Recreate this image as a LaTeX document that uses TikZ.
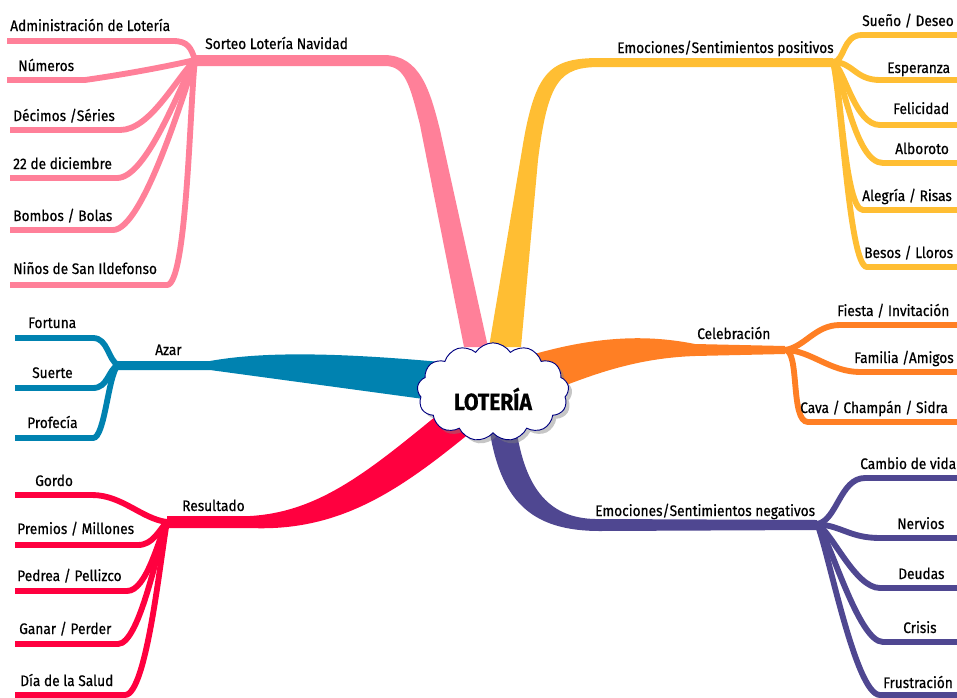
\documentclass[tikz,border=0pt]{standalone}
\usepackage{fontspec}
\setmainfont{Fira Sans}[FakeStretch=0.9, FakeBold=0.6]
\usetikzlibrary{calc, shapes.symbols, shadows}
\definecolor{C1}{HTML}{FF8099}
\definecolor{C2}{HTML}{FFBE33}
\definecolor{C3}{HTML}{FF7F24}
\definecolor{C4}{HTML}{4F4791}
\definecolor{C5}{HTML}{0082B0}
\definecolor{C6}{HTML}{FF003F}
\definecolor{C7}{HTML}{000080}

\begin{document}
\begin{tikzpicture}[
	x=0.03cm, y=-0.03cm,
	txt/.style = {anchor=base west, inner sep=0pt, font=\fontsize{13}{15}\selectfont},
	leaf/.style = {line width=5pt},
	center/.style = {shape=cloud, cloud puffs=13, cloud puff arc=115, aspect=1.6,
		draw=C7, thick, fill=white, minimum width=4.55cm, minimum height=2.95cm,
		drop shadow={shadow xshift=3pt, shadow yshift=-3pt, opacity=0.45},
		font=\fontsize{20}{22}\selectfont\bfseries}
]
  \clip (0,0) rectangle (957,697);

  % hubs
  \coordinate (lot) at (493,392);
  \coordinate (sorteo) at (195,60);
  \coordinate (emopos) at (833,62);
  \coordinate (celeb) at (785,350);
  \coordinate (emoneg) at (817,524);
  \coordinate (azar) at (118,365);
  \coordinate (result) at (167,522);

  % trunks
  \fill[C1] ($(sorteo)+(0,-5)$) -- (385,55) .. controls (420,56) and (430,90) .. (440,130)
    -- ($(lot)+(-5,-45)$) -- ($(lot)+(-29,-45)$) -- (420,125)
    .. controls (410,85) and (405,66) .. (385,66) -- ($(sorteo)+(0,6)$) -- cycle;
  \fill[C2] ($(emopos)+(0,-4)$) -- (600,58) .. controls (550,58) and (535,70) .. (522,150)
    -- ($(lot)+(-4,-45)$) -- ($(lot)+(28,-45)$) -- (538,160)
    .. controls (548,80) and (560,67) .. (600,67) -- ($(emopos)+(0,5)$) -- cycle;
  \fill[C3] ($(celeb)+(0,-4)$) -- (695,344) .. controls (650,335) and (600,335) .. ($(lot)+(38,-37)$)
    -- ($(lot)+(68,-5)$) .. controls (600,372) and (640,358) .. (695,356) -- ($(celeb)+(0,4)$) -- cycle;
  \fill[C4] ($(lot)+(-4,35)$) .. controls (500,500) and (530,531) .. (600,531) -- ($(emoneg)+(0,6)$)
    -- ($(emoneg)+(0,-4)$) -- (600,519) .. controls (550,520) and (525,490) .. ($(lot)+(23,35)$) -- cycle;
  \fill[C5] ($(azar)+(0,-4)$) -- (210,361) .. controls (260,352) and (330,352) .. ($(lot)+(-52,-30)$)
    -- ($(lot)+(-62,8)$) -- (210,370) -- ($(azar)+(0,5)$) -- cycle;
  \fill[C6] ($(result)+(0,-6)$) -- (250,516) .. controls (320,512) and (370,470) .. ($(lot)+(-52,20)$)
    -- ($(lot)+(-22,40)$) .. controls (400,490) and (340,532) .. (250,528) -- ($(result)+(0,6)$) -- cycle;

  % Sorteo Loteria Navidad
  \coordinate (adm-e) at (7,41);
  \coordinate (num-e) at (7,80);
  \coordinate (dec-e) at (10,130);
  \coordinate (dic-e) at (10,178);
  \coordinate (bom-e) at (10,230);
  \coordinate (nin-e) at (10,285);
  \draw[leaf, C1] (adm-e) -- ++(166,0) .. controls +(15,0) and +(-4,-12) .. (sorteo);
  \draw[leaf, C1] (num-e) -- ++(78,0) .. controls +(35,-5) and +(-35,8) .. (sorteo);
  \draw[leaf, C1] (dec-e) -- ++(110,0) .. controls +(30,0) and +(-20,20) .. (sorteo);
  \draw[leaf, C1] (dic-e) -- ++(107,0) .. controls +(30,0) and +(-15,25) .. (sorteo);
  \draw[leaf, C1] (bom-e) -- ++(103,0) .. controls +(30,0) and +(-10,30) .. (sorteo);
  \draw[leaf, C1] (nin-e) -- ++(157,0) .. controls +(20,0) and +(-5,40) .. (sorteo);
  \node[txt] (sorteo-t) at (205,49) {Sorteo Lotería Navidad};
  \node[txt] (adm) at (10,31) {Administración de Lotería};
  \node[txt] (num) at (18,71) {Números};
  \node[txt] (dec) at (13,121) {Décimos /Séries};
  \node[txt] (dic) at (13,169) {22 de diciembre};
  \node[txt] (bom) at (13,221) {Bombos / Bolas};
  \node[txt] (nin) at (13,274) {Niños de San Ildefonso};

  % Emociones positivas
  \coordinate (sue-e) at (960,35);
  \coordinate (esp-e) at (960,80);
  \coordinate (fel-e) at (960,125);
  \coordinate (alb-e) at (960,163);
  \coordinate (ale-e) at (960,210);
  \coordinate (bes-e) at (960,267);
  \draw[leaf, C2] (sue-e) -- ++(-98,0) .. controls +(-20,0) and +(12,0) .. (emopos);
  \draw[leaf, C2] (esp-e) -- ++(-80,0) .. controls +(-25,0) and +(20,0) .. (emopos);
  \draw[leaf, C2] (fel-e) -- ++(-80,0) .. controls +(-25,0) and +(12,8) .. (emopos);
  \draw[leaf, C2] (alb-e) -- ++(-77,0) .. controls +(-28,0) and +(10,15) .. (emopos);
  \draw[leaf, C2] (ale-e) -- ++(-97,0) .. controls +(-18,0) and +(8,25) .. (emopos);
  \draw[leaf, C2] (bes-e) -- ++(-93,0) .. controls +(-18,0) and +(8,30) .. (emopos);
  \node[txt] (emopos-t) at (617,53) {Emociones/Sentimientos positivos};
  \node[txt] (sue) at (862,26) {Sueño / Deseo};
  \node[txt] (esp) at (887,73) {Esperanza};
  \node[txt] (fel) at (893,114) {Felicidad};
  \node[txt] (alb) at (895,154) {Alboroto};
  \node[txt] (ale) at (862,201) {Alegría / Risas};
  \node[txt] (bes) at (864,258) {Besos / Lloros};

  % Celebracion
  \coordinate (fie-e) at (960,325);
  \coordinate (fam-e) at (960,372);
  \coordinate (cav-e) at (960,422);
  \draw[leaf, C3] (fie-e) -- ++(-120,0) .. controls +(-25,0) and +(20,-3) .. (celeb);
  \draw[leaf, C3] (fam-e) -- ++(-100,0) .. controls +(-30,0) and +(25,0) .. (celeb);
  \draw[leaf, C3] (cav-e) -- ++(-152,0) .. controls +(-18,0) and +(15,0) .. (celeb);
  \node[txt] (celeb-t) at (697,339) {Celebración};
  \node[txt] (fie) at (837,316) {Fiesta / Invitación};
  \node[txt] (fam) at (854,363) {Familia /Amigos};
  \node[txt] (cav) at (800,413) {Cava / Champán / Sidra};

  % Emociones negativas
  \coordinate (cam-e) at (960,478);
  \coordinate (ner-e) at (960,538);
  \coordinate (deu-e) at (960,588);
  \coordinate (cri-e) at (960,642);
  \coordinate (fru-e) at (960,695);
  \draw[leaf, C4] (cam-e) -- ++(-95,0) .. controls +(-25,0) and +(20,-3) .. (emoneg);
  \draw[leaf, C4] (ner-e) -- ++(-80,0) .. controls +(-30,0) and +(25,2) .. (emoneg);
  \draw[leaf, C4] (deu-e) -- ++(-80,0) .. controls +(-25,0) and +(15,8) .. (emoneg);
  \draw[leaf, C4] (cri-e) -- ++(-77,0) .. controls +(-25,0) and +(12,12) .. (emoneg);
  \draw[leaf, C4] (fru-e) -- ++(-80,0) .. controls +(-25,0) and +(10,20) .. (emoneg);
  \node[txt] (emoneg-t) at (595,516) {Emociones/Sentimientos negativos};
  \node[txt] (cam) at (860,469) {Cambio de vida};
  \node[txt] (ner) at (897,529) {Nervios};
  \node[txt] (deu) at (898,579) {Deudas};
  \node[txt] (cri) at (903,633) {Crisis};
  \node[txt] (fru) at (883,688) {Frustración};

  % Azar
  \coordinate (for-e) at (15,338);
  \coordinate (sur-e) at (15,388);
  \coordinate (pro-e) at (15,438);
  \draw[leaf, C5] (for-e) -- ++(78,0) .. controls +(15,0) and +(-10,-5) .. (azar);
  \draw[leaf, C5] (sur-e) -- ++(78,0) .. controls +(15,0) and +(-10,5) .. (azar);
  \draw[leaf, C5] (pro-e) -- ++(78,0) .. controls +(12,0) and +(-10,10) .. (azar);
  \node[txt] (azar-t) at (155,355) {Azar};
  \node[txt] (for) at (28,328) {Fortuna};
  \node[txt] (sur) at (32,378) {Suerte};
  \node[txt] (pro) at (27,428) {Profecía};

  % Resultado
  \coordinate (gor-e) at (15,495);
  \coordinate (pre-e) at (15,545);
  \coordinate (ped-e) at (15,591);
  \coordinate (gan-e) at (15,644);
  \coordinate (dia-e) at (15,695);
  \draw[leaf, C6] (gor-e) -- ++(77,0) .. controls +(30,0) and +(-25,-3) .. (result);
  \draw[leaf, C6] (pre-e) -- ++(123,0) .. controls +(15,0) and +(-8,8) .. (result);
  \draw[leaf, C6] (ped-e) -- ++(112,0) .. controls +(20,0) and +(-8,15) .. (result);
  \draw[leaf, C6] (gan-e) -- ++(103,0) .. controls +(22,0) and +(-8,20) .. (result);
  \draw[leaf, C6] (dia-e) -- ++(110,0) .. controls +(22,0) and +(-6,30) .. (result);
  \node[txt] (result-t) at (182,511) {Resultado};
  \node[txt] (gor) at (35,486) {Gordo};
  \node[txt] (pre) at (17,534) {Premios / Millones};
  \node[txt] (ped) at (17,581) {Pedrea / Pellizco};
  \node[txt] (gan) at (19,634) {Ganar / Perder};
  \node[txt] (dia) at (20,686) {Día de la Salud};

  % centre
  \node[center] (loteria) at (lot) {\raisebox{-6pt}[\height][\depth]{LOTERÍA}};
\end{tikzpicture}
\end{document}
